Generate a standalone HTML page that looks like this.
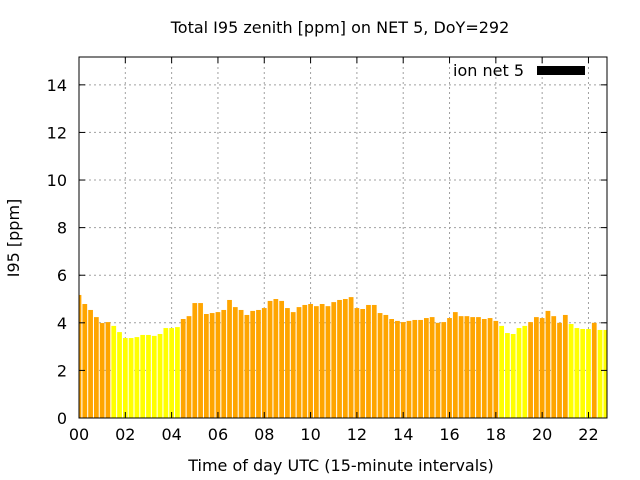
<!DOCTYPE html>
<html><head><meta charset="utf-8"><style>
body{margin:0;background:#fff;}
svg{display:block;font-family:"DejaVu Sans","Liberation Sans",sans-serif;}
</style></head><body>
<svg id="chart" width="640" height="480">
<text x="340" y="33" font-size="16" text-anchor="middle">Total I95 zenith [ppm] on NET 5, DoY=292</text>
<text x="341" y="471" font-size="16" text-anchor="middle">Time of day UTC (15-minute intervals)</text>
<text x="19" y="238" font-size="16" text-anchor="middle" transform="rotate(-90 19 238)">I95 [ppm]</text>
<g id="grid"></g><g id="bars"></g><g id="axes"></g>
<text x="524" y="76" font-size="16" text-anchor="end">ion net 5</text>
<rect x="537" y="66" width="48" height="9" fill="#000"/>
</svg>
<script>
const values=[5.17,4.79,4.54,4.24,3.99,4.03,3.87,3.61,3.36,3.36,3.40,3.49,3.49,3.45,3.53,3.78,3.78,3.82,4.16,4.28,4.83,4.83,4.37,4.41,4.45,4.54,4.96,4.66,4.54,4.33,4.50,
4.54,4.62,4.92,5.0,4.92,4.62,4.45,4.66,4.75,4.79,4.70,4.79,4.70,4.87,4.96,5.0,5.08,4.62,4.58,4.75,4.75,4.41,4.33,4.16,4.08,4.03,4.08,4.12,4.12,
4.2,4.24,4.0,4.03,4.2,4.45,4.28,4.28,4.24,4.24,4.16,4.2,4.08,3.87,3.57,3.53,3.78,3.87,4.03,4.24,4.2,4.5,4.28,4.0,4.33,3.95,3.78,3.74,3.74,4.0,3.7,3.7];
const lowFlag=[0,0,0,0,0,0,1,1,1,1,1,1,1,1,1,1,1,1,0,0,0,0,0,0,0,0,0,0,0,0,0,
0,0,0,0,0,0,0,0,0,0,0,0,0,0,0,0,0,0,0,0,0,0,0,0,0,0,0,0,0,
0,0,0,0,0,0,0,0,0,0,0,0,0,1,1,1,1,1,0,0,0,0,0,0,0,1,1,1,1,0,1,1];
const yTicks=[0,2,4,6,8,10,12,14];
const xTickLabels=["00","02","04","06","08","10","12","14","16","18","20","22"];
const L=79,R=607,T=57,B=418,xMax=22.8,yMax=15.17;
const X=h=>L+h/xMax*(R-L), Y=v=>B-v/yMax*(B-T);
const NS="http://www.w3.org/2000/svg";
function mk(t,a,p){const e=document.createElementNS(NS,t);for(const k in a)e.setAttribute(k,a[k]);p.appendChild(e);return e;}
const grid=document.getElementById('grid'),bars=document.getElementById('bars'),axes=document.getElementById('axes');
yTicks.forEach(v=>{
 if(v>0){const g=mk('line',{x1:L,x2:R,y1:Y(v),y2:Y(v),stroke:'#a0a0a0','stroke-dasharray':'2,3'},grid);
 
 }
 const t=mk('text',{x:L-12,y:Y(v)+6,'font-size':16,'text-anchor':'end'},axes);t.textContent=v;
 
 
 mk('line',{x1:L,x2:L+6,y1:Y(v),y2:Y(v),stroke:'#000'},axes);
 mk('line',{x1:R,x2:R-6,y1:Y(v),y2:Y(v),stroke:'#000'},axes);
});
xTickLabels.forEach((s,i)=>{
 const h=i*2,x=X(h);
 if(h>0){const g=mk('line',{x1:x,x2:x,y1:T,y2:B,stroke:'#a0a0a0','stroke-dasharray':'2,3'},grid);
 
 }
 const t=mk('text',{x:x,y:B+22,'font-size':16,'text-anchor':'middle'},axes);t.textContent=s;
 
 
 mk('line',{x1:x,x2:x,y1:B,y2:B-6,stroke:'#000'},axes);
 mk('line',{x1:x,x2:x,y1:T,y2:T+6,stroke:'#000'},axes);
});
mk('clipPath',{id:'pc'},bars).appendChild(document.createElementNS(NS,'rect'));
const cr=bars.querySelector('clipPath rect');cr.setAttribute('x',L);cr.setAttribute('y',T);cr.setAttribute('width',R-L);cr.setAttribute('height',B-T);
const bg=mk('g',{'clip-path':'url(#pc)'},bars);
const bw=(X(0.25)-X(0))*0.82;
values.forEach((v,i)=>{
 const cx=X(i*0.25);
 const r=mk('rect',{x:cx-bw/2,y:Y(v),width:bw,height:B-Y(v),fill:lowFlag[i]?'#ffff00':'#ffa500'},bg);
 
 
});
const f=mk('rect',{x:L,y:T,width:R-L,height:B-T,fill:'none',stroke:'#000','stroke-width':1},axes);


</script>
</body></html>
